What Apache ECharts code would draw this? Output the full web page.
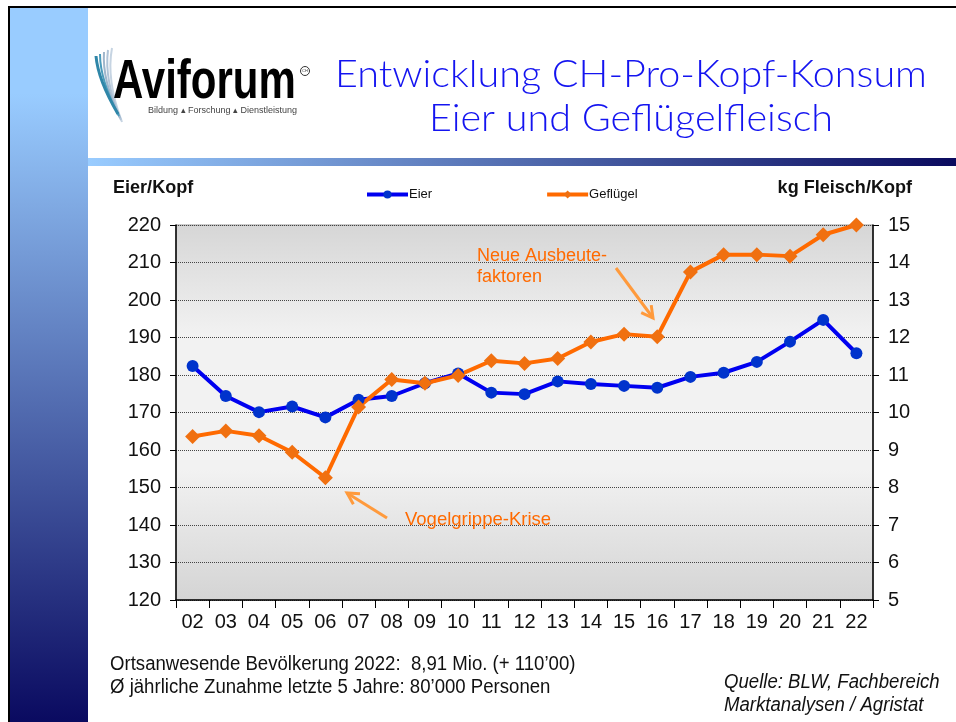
<!DOCTYPE html>
<html>
<head>
<meta charset="utf-8">
<script src="https://cdn.jsdelivr.net/npm/echarts@6/dist/echarts.min.js"></script>
<style>
  html, body { margin: 0; padding: 0; background: #fff; }
  #chart { width: 956px; height: 722px; }
</style>
</head>
<body>
<div id="chart"></div>
<script>
// Jahre (20xx)
const years = ['02', '03', '04', '05', '06', '07', '08', '09', '10', '11', '12',
  '13', '14', '15', '16', '17', '18', '19', '20', '21', '22'];
// Eier pro Kopf (linke Achse)
const eier = [182.4, 174.4, 170.1, 171.6, 168.7, 173.4, 174.4, 177.8, 180.4, 175.3, 174.9,
  178.3, 177.6, 177.1, 176.6, 179.5, 180.6, 183.5, 188.9, 194.7, 185.8];
// Geflügelfleisch kg pro Kopf (rechte Achse)
const gefluegel = [9.36, 9.51, 9.38, 8.94, 8.26, 10.15, 10.88, 10.78, 10.99, 11.38, 11.31,
  11.44, 11.88, 12.09, 12.02, 13.75, 14.21, 14.21, 14.17, 14.74, 15.0];
const leftAxis = { min: 120, max: 220, interval: 10 };
const rightAxis = { min: 5, max: 15, interval: 1 };

const chart = echarts.init(document.getElementById('chart'));

const blue = '#0000f0';
const orange = '#ff6a00';
const arrowColor = '#ff9a3c';
const sans = 'Liberation Sans, Arial, sans-serif';
const tickFont = { fontFamily: sans, fontSize: 20, color: '#111' };

function arrow(x1, y1, x2, y2) {
  const a = Math.atan2(y2 - y1, x2 - x1);
  const h = 13, w = 0.5;
  return [
    { type: 'line', z: 10, shape: { x1: x1, y1: y1, x2: x2, y2: y2 },
      style: { stroke: arrowColor, lineWidth: 3 } },
    { type: 'polyline', z: 10, shape: { points: [
        [x2 - h * Math.cos(a - w), y2 - h * Math.sin(a - w)],
        [x2, y2],
        [x2 - h * Math.cos(a + w), y2 - h * Math.sin(a + w)]
      ] },
      style: { stroke: arrowColor, lineWidth: 3, fill: null } }
  ];
}

const featherColors = ['#c6d4e2', '#b0c4d8', '#9fb6cc', '#4a9bbb', '#2f86a8'];
const feathers = featherColors.map(function (c, i) {
  return {
    type: 'bezierCurve',
    shape: { x1: 112 - i * 4, y1: 48 + i * 2, cpx1: 106 - i * 2, cpy1: 80, x2: 122 - i, y2: 122 - i * 2 },
    style: { stroke: c, lineWidth: i === 4 ? 3 : 2, fill: null }
  };
});

chart.setOption({
  animation: false,
  backgroundColor: '#fff',
  graphic: [
    // Rahmen
    { type: 'rect', shape: { x: 8, y: 6, width: 948, height: 2 }, style: { fill: '#000' } },
    { type: 'rect', shape: { x: 8, y: 6, width: 2, height: 716 }, style: { fill: '#000' } },
    { type: 'rect', shape: { x: 10, y: 8, width: 78, height: 714 },
      style: { fill: new echarts.graphic.LinearGradient(0, 0, 0, 1, [
        { offset: 0, color: '#99ccff' }, { offset: 0.12, color: '#99ccff' },
        { offset: 1, color: '#0a0a60' }]) } },
    { type: 'rect', shape: { x: 88, y: 158, width: 868, height: 8 },
      style: { fill: new echarts.graphic.LinearGradient(0, 0, 1, 0, [
        { offset: 0, color: '#99ccff' }, { offset: 1, color: '#0a0a5e' }]) } },
    // Logo
    ...feathers,
    { type: 'text', x: 113, y: 111, scaleX: 0.75, style: { text: 'Aviforum', fill: '#000', fontSize: 56,
      fontWeight: 'bold', fontFamily: sans, verticalAlign: 'bottom' } },
    { type: 'circle', shape: { cx: 305, cy: 71, r: 4.5 }, style: { fill: null, stroke: '#333', lineWidth: 1 } },
    { type: 'text', x: 305, y: 71, style: { text: 'CH', fill: '#333', fontSize: 4, align: 'center',
      verticalAlign: 'middle', fontFamily: sans } },
    { type: 'text', x: 148, y: 111, style: { text: 'Bildung \u25B4 Forschung \u25B4 Dienstleistung', fill: '#444',
      fontSize: 9, verticalAlign: 'middle', fontFamily: sans } },
    // Titel
    { type: 'text', x: 631, y: 75, scaleX: 1.04, style: { text: 'Entwicklung CH-Pro-Kopf-Konsum', fill: '#1414f0',
      fontSize: 38, align: 'center', verticalAlign: 'middle', fontFamily: 'Lato, sans-serif', fontWeight: 300 } },
    { type: 'text', x: 631, y: 119, scaleX: 1.04, style: { text: 'Eier und Geflügelfleisch', fill: '#1414f0',
      fontSize: 38, align: 'center', verticalAlign: 'middle', fontFamily: 'Lato, sans-serif', fontWeight: 300 } },
    // Achsentitel
    { type: 'text', x: 113, y: 188, scaleX: 0.95, style: { text: 'Eier/Kopf', fill: '#111', fontSize: 19, fontWeight: 'bold',
      verticalAlign: 'middle', fontFamily: sans } },
    { type: 'text', x: 912, y: 188, scaleX: 0.95, style: { text: 'kg Fleisch/Kopf', fill: '#111', fontSize: 19, fontWeight: 'bold',
      align: 'right', verticalAlign: 'middle', fontFamily: sans } },
    // Annotationen
    { type: 'text', x: 477, y: 267, z: 10, style: { text: 'Neue Ausbeute-\nfaktoren', fill: orange, fontSize: 18,
      lineHeight: 21, verticalAlign: 'middle', fontFamily: sans } },
    { type: 'text', x: 405, y: 520, z: 10, style: { text: 'Vogelgrippe-Krise', fill: orange, fontSize: 18.5,
      verticalAlign: 'middle', fontFamily: sans } },
    ...arrow(616, 268, 653, 318),
    ...arrow(387, 518, 347, 493),
    // Fußnoten
    { type: 'text', x: 110, y: 676, scaleX: 0.93, style: { text: 'Ortsanwesende Bevölkerung 2022:  8,91 Mio. (+ 110’00)\nØ jährliche Zunahme letzte 5 Jahre: 80’000 Personen',
      fill: '#111', fontSize: 20, lineHeight: 23, verticalAlign: 'middle', fontFamily: sans } },
    { type: 'text', x: 724, y: 694, scaleX: 0.93, style: { text: 'Quelle: BLW, Fachbereich\nMarktanalysen / Agristat',
      fill: '#111', fontSize: 20, lineHeight: 23, verticalAlign: 'middle', fontStyle: 'italic', fontFamily: sans } }
  ],
  legend: {
    left: 360,
    top: 183,
    itemWidth: 41,
    itemHeight: 10,
    itemGap: 113,
    lineStyle: { width: 4 },
    textStyle: { fontSize: 13, color: '#111', padding: [0, 0, 0, -4], fontFamily: sans },
    data: ['Eier', 'Geflügel']
  },
  grid: {
    left: 176, right: 83, top: 225, bottom: 122,
    show: true,
    borderColor: '#999',
    borderWidth: 1,
    backgroundColor: new echarts.graphic.LinearGradient(0, 0, 0, 1, [
      { offset: 0, color: '#d6d6d6' }, { offset: 0.3, color: '#f2f2f2' },
      { offset: 0.65, color: '#f2f2f2' }, { offset: 1, color: '#d4d4d4' }])
  },
  xAxis: {
    type: 'category',
    data: years,
    boundaryGap: true,
    axisLine: { lineStyle: { color: '#000', width: 1.5 } },
    axisTick: { show: true, length: 8, lineStyle: { color: '#000' } },
    axisLabel: Object.assign({ margin: 12 }, tickFont)
  },
  yAxis: [
    {
      type: 'value',
      min: leftAxis.min, max: leftAxis.max, interval: leftAxis.interval,
      axisLine: { show: true, lineStyle: { color: '#000', width: 1.5 } },
      axisTick: { show: true, length: 6, lineStyle: { color: '#000' } },
      axisLabel: Object.assign({ margin: 15 }, tickFont),
      splitLine: { show: true, lineStyle: { color: '#444', type: [1, 1], width: 1 } }
    },
    {
      type: 'value',
      position: 'right',
      min: rightAxis.min, max: rightAxis.max, interval: rightAxis.interval,
      axisLine: { show: true, lineStyle: { color: '#000', width: 1.5 } },
      axisTick: { show: true, length: 6, lineStyle: { color: '#000' } },
      axisLabel: Object.assign({ margin: 15 }, tickFont),
      splitLine: { show: false }
    }
  ],
  series: [
    {
      name: 'Eier',
      type: 'line',
      yAxisIndex: 0,
      data: eier,
      symbol: 'circle',
      symbolSize: 12,
      lineStyle: { color: blue, width: 4 },
      itemStyle: { color: '#0033cc' }
    },
    {
      name: 'Geflügel',
      type: 'line',
      yAxisIndex: 1,
      data: gefluegel,
      symbol: 'diamond',
      symbolSize: 15,
      lineStyle: { color: orange, width: 4 },
      itemStyle: { color: '#f07010' }
    }
  ]
});
</script>
</body>
</html>
